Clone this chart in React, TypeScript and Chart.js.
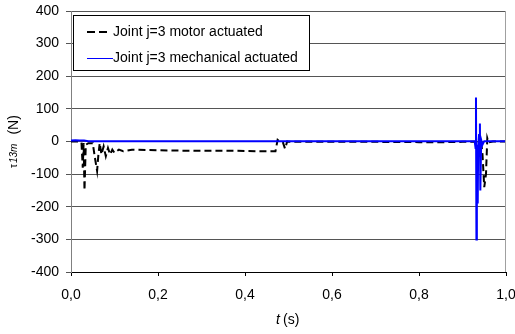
import React, { useEffect, useRef } from "react";
import { Chart, registerables } from "chart.js";

Chart.register(...registerables);

const motorT = [0, 0.02, 0.024, 0.027, 0.029, 0.031, 0.034, 0.04, 0.05, 0.055, 0.06, 0.063, 0.066, 0.07, 0.075, 0.08, 0.085, 0.09, 0.095, 0.1, 0.11, 0.12, 0.14, 0.2, 0.25, 0.3, 0.35, 0.4, 0.44, 0.47, 0.475, 0.48, 0.487, 0.492, 0.497, 0.5, 0.6, 0.7, 0.8, 0.86, 0.9, 0.93, 0.943, 0.946, 0.95, 0.954, 0.957, 0.96, 0.97, 1.0];
const motorV = [0, 0, -2, -80, -5, -150, -10, -5, -5, -50, -90, -40, -5, -40, -15, -45, -20, -40, -25, -35, -25, -30, -25, -27, -28, -28, -28, -29, -30, -30, 5, 0, -2, -22, 0, -1, -1, -1, -2, -2, -1, -1, -2, -40, -140, -100, 10, -3, 0, 0];

const mechT = [0, 0.01, 0.02, 0.03, 0.04, 0.1, 0.3, 0.5, 0.7, 0.9, 0.928, 0.93, 0.931, 0.932, 0.933, 0.935, 0.936, 0.938, 0.94, 0.941, 0.943, 0.946, 0.95, 1.0];
const mechV = [3, 4, 3, 3, 1, 1, 1, 1, 1, 1, 1, -20, 135, -300, -10, -190, -20, 20, 55, -150, 5, -10, 1, 1];

const yTicks = [400, 300, 200, 100, 0, -100, -200, -300, -400];
const xTicks = [0, 0.2, 0.4, 0.6, 0.8, 1.0];

const legendLabels = ["Joint j=3 motor actuated", "Joint j=3 mechanical actuated"];

const FONT = "'Liberation Sans', Arial, sans-serif";

export default function App() {
  const ref = useRef<HTMLCanvasElement>(null);
  useEffect(() => {
    const canvas = ref.current!;
    const overlay = {
      id: "overlay",
      afterDraw(chart: any) {
        const ctx = chart.ctx;
        const a = chart.chartArea;
        ctx.save();
        // right border
        ctx.strokeStyle = "#a0a0a0";
        ctx.lineWidth = 1;
        ctx.beginPath();
        ctx.moveTo(a.right - 0.5, a.top);
        ctx.lineTo(a.right - 0.5, a.bottom);
        ctx.stroke();
        // legend
        const bx = 73, by = 15, bw = 236, bh = 55;
        ctx.fillStyle = "#fff";
        ctx.fillRect(bx, by, bw, bh);
        ctx.strokeStyle = "#000";
        ctx.lineWidth = 1;
        ctx.strokeRect(bx + 0.5, by + 0.5, bw, bh);
        ctx.lineWidth = 2;
        ctx.setLineDash([8, 4]);
        ctx.beginPath();
        ctx.moveTo(87, 32);
        ctx.lineTo(111, 32);
        ctx.stroke();
        ctx.setLineDash([]);
        ctx.strokeStyle = "#0000ff";
        ctx.lineWidth = 1;
        ctx.beginPath();
        ctx.moveTo(87, 58.5);
        ctx.lineTo(113, 58.5);
        ctx.stroke();
        ctx.fillStyle = "#000";
        ctx.font = `14px ${FONT}`;
        ctx.textBaseline = "middle";
        ctx.textAlign = "left";
        ctx.fillText(legendLabels[0], 113, 32);
        ctx.fillText(legendLabels[1], 113, 58);
        // x title
        ctx.font = `italic 14px ${FONT}`;
        ctx.fillText("t", 276, 320);
        ctx.font = `14px ${FONT}`;
        ctx.fillText("(s)", 283, 320);
        // y title
        ctx.translate(14, 168);
        ctx.rotate(-Math.PI / 2);
        ctx.textAlign = "left";
        ctx.font = `10px ${FONT}`;
        ctx.fillText("τ", 0, 0);
        let w = ctx.measureText("τ").width;
        ctx.font = `italic 10px ${FONT}`;
        ctx.fillText("13m", w + 1, 0);
        w += ctx.measureText("13m").width + 10;
        ctx.font = `14px ${FONT}`;
        ctx.fillText("(N)", w, 0);
        ctx.restore();
      },
    };
    const chart = new Chart(canvas, {
      type: "line",
      data: {
        datasets: [
          {
            label: legendLabels[1],
            data: mechT.map((t, i) => ({ x: t, y: mechV[i] })),
            borderColor: "#0000ff",
            borderWidth: 2,
            pointRadius: 0,
            order: 0,
          },
          {
            label: legendLabels[0],
            data: motorT.map((t, i) => ({ x: t, y: motorV[i] })),
            borderColor: "#000000",
            borderWidth: 2,
            borderDash: [7, 4],
            pointRadius: 0,
            order: 1,
          },
        ],
      },
      options: {
        responsive: false,
        animation: false,
        events: [],
        layout: { padding: { top: 11, right: 9, left: 0, bottom: 0 } },
        plugins: { legend: { display: false }, tooltip: { enabled: false } },
        scales: {
          x: {
            type: "linear",
            min: 0,
            max: 1,
            afterBuildTicks: (s: any) => {
              s.ticks = xTicks.map((v) => ({ value: v }));
            },
            afterFit: (s: any) => {
              s.height = 62;
              s.paddingLeft = 0;
              s.paddingRight = 0;
            },
            grid: { drawOnChartArea: false, color: "#000", tickLength: 4 },
            border: { color: "#000" },
            ticks: {
              color: "#000",
              font: { family: FONT, size: 14 },
              padding: 11,
              maxRotation: 0,
              callback: (v: any) => Number(v).toFixed(1).replace(".", ","),
            },
          },
          y: {
            min: -400,
            max: 400,
            afterBuildTicks: (s: any) => {
              s.ticks = yTicks.map((v) => ({ value: v }));
            },
            afterFit: (s: any) => {
              s.width = 71;
              s.paddingTop = 0;
              s.paddingBottom = 0;
            },
            grid: { color: "#555", tickLength: 5 },
            border: { color: "#808080" },
            ticks: {
              color: "#000",
              font: { family: FONT, size: 14 },
              padding: 7,
            },
          },
        },
      },
      plugins: [overlay],
    } as any);
    return () => chart.destroy();
  }, []);
  return (
    <div style={{ position: "absolute", left: 0, top: 0, width: 515, height: 334, background: "#fff" }}>
      <canvas ref={ref} width={515} height={334} />
    </div>
  );
}
